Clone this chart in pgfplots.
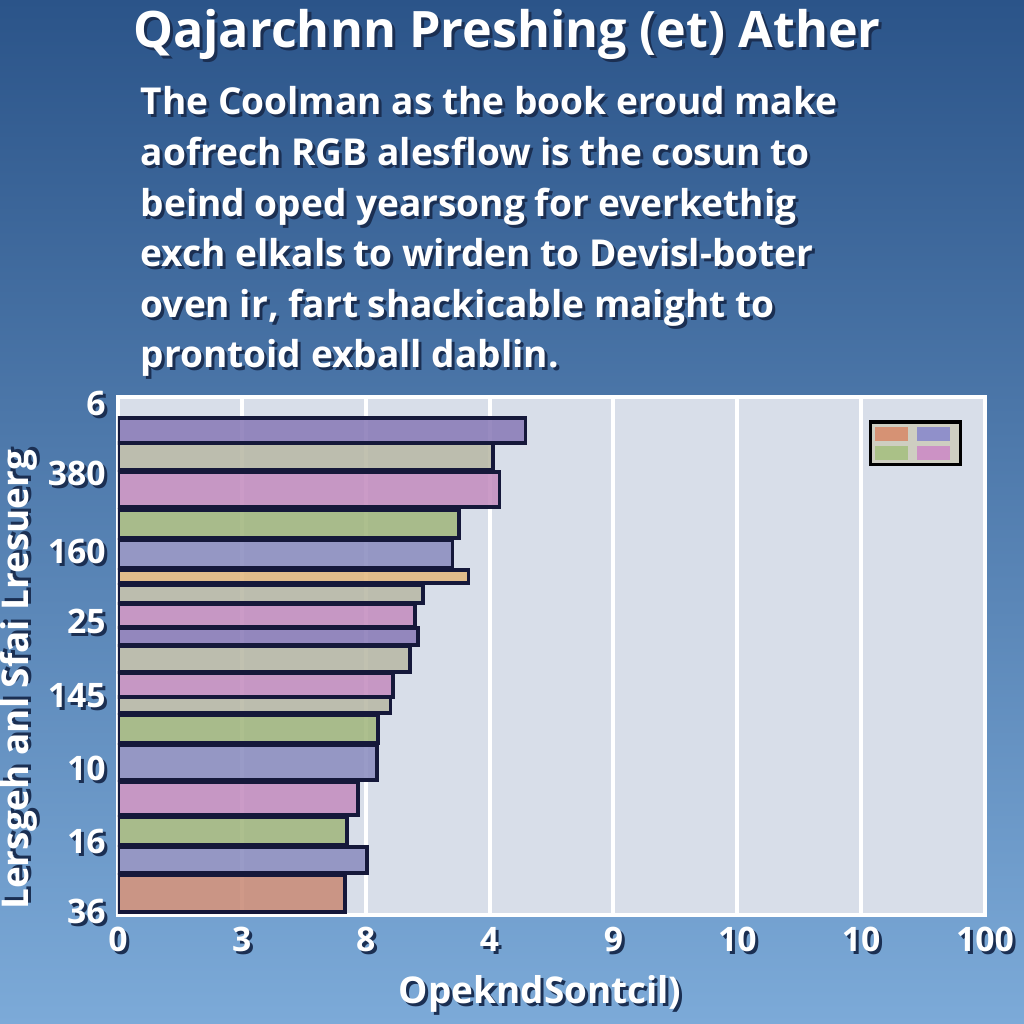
\documentclass[border=0pt]{standalone}
\usepackage{pgfplots}
\pgfplotsset{compat=1.18}
\usepackage{fontspec}
\setmainfont{Open Sans}
\definecolor{bgtop}{HTML}{2B5489}
\definecolor{bgbot}{HTML}{7CAAD8}
\definecolor{plotbg}{HTML}{D8DEE9}
\definecolor{shad}{HTML}{1B2F52}
\definecolor{edge}{HTML}{15183A}
\definecolor{cpurple}{HTML}{8A7CB8}
\definecolor{ckhaki}{HTML}{B9B9A6}
\definecolor{cpink}{HTML}{C48EC0}
\definecolor{cgreen}{HTML}{A2B77F}
\definecolor{cblue}{HTML}{8C8EC0}
\definecolor{ctan}{HTML}{E3B87F}
\definecolor{csalmon}{HTML}{C98C78}
\definecolor{lorange}{HTML}{D88A6A}
\definecolor{lblue}{HTML}{8888CC}
\definecolor{lgreen}{HTML}{A6C080}
\definecolor{lpink}{HTML}{CC8AC6}
\newcommand\sh[1]{\makebox[0pt][l]{\hspace{0.3mm}\raisebox{-0.3mm}{\textcolor{shad}{#1}}}#1}
\begin{document}
\begin{tikzpicture}
\path[use as bounding box] (0,0) rectangle (10.24,10.24);
\shade[top color=bgtop, bottom color=bgbot] (0,0) rectangle (10.24,10.24);
% title and paragraph
\node[white, font=\bfseries\fontsize{14.3}{17}\selectfont] at (5.07,9.88) {\sh{Qajarchnn Preshing (et) Ather}};
\node[white, anchor=north west, align=left, inner sep=0pt, font=\bfseries\fontsize{10.55}{14.4}\selectfont] at (1.40,9.38)
  {\sh{The Coolman as the book eroud make}\\
   \sh{aofrech RGB alesflow is the cosun to}\\
   \sh{beind oped yearsong for everkethig}\\
   \sh{exch elkals to wirden to Devisl-boter}\\
   \sh{oven ir, fart shackicable maight to}\\
   \sh{prontoid exball dablin.}};
\begin{axis}[
  at={(1.18cm,1.09cm)}, anchor=south west,
  width=8.67cm, height=5.18cm, scale only axis,
  xmin=0, xmax=7, ymin=397, ymax=915, y dir=reverse,
  axis background/.style={fill=plotbg},
  axis line style={white, line width=0.35mm},
  xtick={0,1,2,3,4,5,6,7},
  xticklabels={\sh{0},\sh{3},\sh{8},\sh{4},\sh{9},\sh{10},\sh{10},\sh{100}},
  ytick={405,475,553,623,697,770,843,913},
  yticklabels={\sh{6},\sh{380},\sh{160},\sh{25},\sh{145},\sh{10},\sh{16},\sh{36}},
  ticklabel style={white, font=\bfseries\fontsize{9.6}{11}\selectfont},
  major tick length=0pt,
  xmajorgrids, grid style={white, line width=0.4mm},
  xlabel={\sh{OpekndSontcil)}},
  ylabel={\sh{Lersgeh anl Sfai Lresuerg}},
  label style={white, font=\bfseries\fontsize{10.5}{12}\selectfont},
  ylabel style={at={(axis description cs:-0.113,0.454)}, anchor=center, rotate=0},
  xlabel style={at={(axis description cs:0.487,-0.155)}, anchor=center},
  every axis plot/.append style={xbar, bar shift=0pt, draw=edge, line width=0.38mm, fill opacity=0.88},
  legend columns=2,
  legend style={at={(0.9735,0.9556)}, anchor=north east, fill=ckhaki!70!white, draw=black, line width=0.35mm,
    inner sep=0.5mm, row sep=0.5mm, nodes={inner sep=0.25mm, font=\tiny}, /tikz/every even column/.append style={column sep=0.4mm}},
  legend image code/.code={\fill[#1, draw=none] (0mm,-0.7mm) rectangle (3.3mm,0.7mm);},
]
\addlegendimage{fill=lorange}\addlegendentry{}
\addlegendimage{fill=lblue}\addlegendentry{}
\addlegendimage{fill=lgreen}\addlegendentry{}
\addlegendimage{fill=lpink}\addlegendentry{}
\addplot[fill=cpurple, bar width=25] coordinates {(3.29,430.5)};
\addplot[fill=ckhaki, bar width=27] coordinates {(3.03,456.5)};
\addplot[fill=cpink, bar width=35] coordinates {(3.08,489.5)};
\addplot[fill=cgreen, bar width=28] coordinates {(2.75,524)};
\addplot[fill=cblue, bar width=28] coordinates {(2.70,554)};
\addplot[fill=ctan, bar width=13] coordinates {(2.83,576.5)};
\addplot[fill=ckhaki, bar width=18] coordinates {(2.46,594)};
\addplot[fill=cpink, bar width=23] coordinates {(2.40,615.5)};
\addplot[fill=cpurple, bar width=17] coordinates {(2.42,636.5)};
\addplot[fill=ckhaki, bar width=26] coordinates {(2.36,659)};
\addplot[fill=cpink, bar width=24] coordinates {(2.22,685)};
\addplot[fill=ckhaki, bar width=16] coordinates {(2.20,705)};
\addplot[fill=cgreen, bar width=28] coordinates {(2.10,729)};
\addplot[fill=cblue, bar width=35] coordinates {(2.09,762.5)};
\addplot[fill=cpink, bar width=33] coordinates {(1.94,798.5)};
\addplot[fill=cgreen, bar width=28] coordinates {(1.85,831)};
\addplot[fill=cblue, bar width=26] coordinates {(2.01,860)};
\addplot[fill=csalmon, bar width=37] coordinates {(1.83,893.5)};
\end{axis}
\end{tikzpicture}
\end{document}
